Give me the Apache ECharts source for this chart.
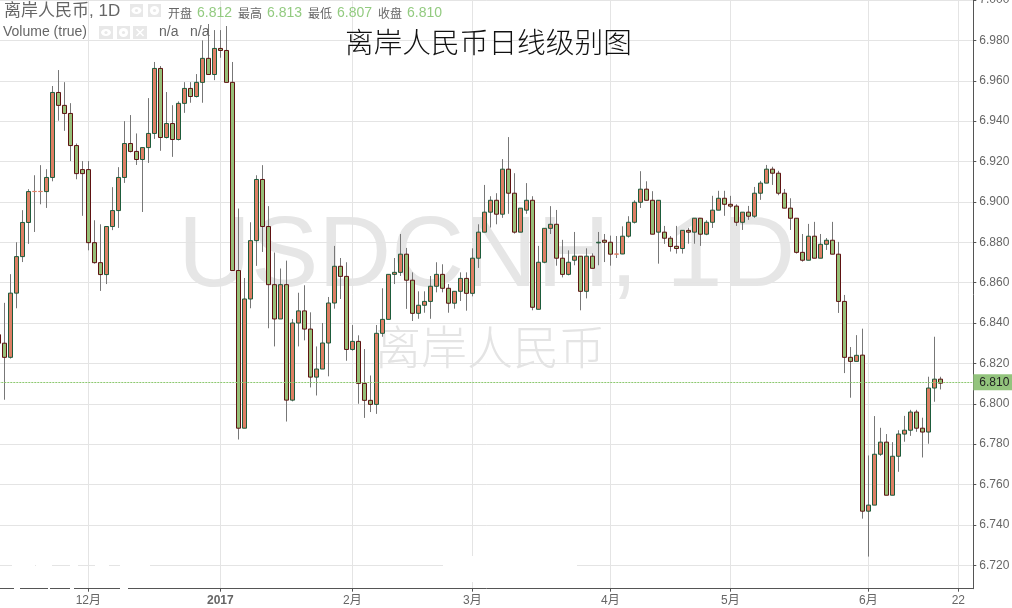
<!DOCTYPE html>
<html><head><meta charset="utf-8">
<style>html,body{margin:0;padding:0;background:#fff}#c{width:1012px;height:608px}</style>
<script src="https://cdn.jsdelivr.net/npm/echarts@6/dist/echarts.min.js"></script>
</head><body><div id="c"></div>
<script>
const opens = [6.8342,6.8300,6.8230,6.8548,6.8729,6.8898,6.9051,6.9051,6.9051,6.9121,
6.9542,6.9478,6.9438,6.9279,6.9160,6.9160,6.8798,6.8699,6.8640,6.8878,
6.8957,6.9121,6.9289,6.9250,6.9210,6.9269,6.9339,6.9661,6.9319,6.9388,
6.9309,6.9488,6.9562,6.9522,6.9592,6.9711,6.9631,6.9760,6.9750,6.9592,
6.8660,6.7879,6.8519,6.8808,6.9111,6.8878,6.8590,6.8420,6.8590,6.8018,
6.8400,6.8460,6.8370,6.8132,6.8172,6.8301,6.8499,6.8681,6.8631,6.8269,
6.8309,6.8101,6.8017,6.7997,6.8349,6.8418,6.8641,6.8651,6.8741,6.8612,
6.8448,6.8488,6.8507,6.8582,6.8641,6.8572,6.8498,6.8557,6.8621,6.8547,
6.8721,6.8850,6.8949,6.9008,6.8939,6.9162,6.9043,6.8850,6.8959,6.9008,
6.8468,6.8701,6.8869,6.8889,6.8721,6.8641,6.8711,6.8731,6.8557,6.8731,
6.8797,6.8810,6.8800,6.8741,6.8742,6.8830,6.8899,6.8998,6.9063,6.9008,
6.8850,6.8850,6.8820,6.8780,6.8769,6.8859,6.8850,6.8919,6.8840,6.8899,
6.8959,6.9018,6.8988,6.8979,6.8899,6.8949,6.8929,6.9043,6.9093,6.9162,
6.9142,6.9043,6.8969,6.8919,6.8750,6.8711,6.8830,6.8721,6.8790,6.8810,
6.8741,6.8507,6.8230,6.8210,6.8241,6.7468,6.7498,6.7750,6.7810,6.7547,
6.7740,6.7850,6.7869,6.7959,6.7879,6.7860,6.8078,6.8122];
const closes = [6.8300,6.8230,6.8548,6.8729,6.8898,6.9051,6.9052,6.9052,6.9121,6.9542,
6.9478,6.9438,6.9279,6.9140,6.9140,6.8798,6.8699,6.8640,6.8878,6.8957,
6.9121,6.9289,6.9250,6.9210,6.9269,6.9339,6.9661,6.9319,6.9388,6.9309,
6.9488,6.9562,6.9522,6.9592,6.9711,6.9631,6.9760,6.9750,6.9592,6.8660,
6.7879,6.8519,6.8808,6.9111,6.8878,6.8590,6.8420,6.8590,6.8018,6.8400,
6.8460,6.8370,6.8132,6.8172,6.8301,6.8499,6.8681,6.8631,6.8269,6.8309,
6.8101,6.8017,6.7997,6.8349,6.8418,6.8641,6.8651,6.8741,6.8612,6.8448,
6.8488,6.8507,6.8582,6.8641,6.8572,6.8498,6.8557,6.8621,6.8547,6.8721,
6.8850,6.8949,6.9008,6.8939,6.9162,6.9043,6.8850,6.8969,6.9008,6.8478,
6.8701,6.8869,6.8889,6.8721,6.8641,6.8701,6.8731,6.8557,6.8731,6.8671,
6.8800,6.8800,6.8741,6.8742,6.8830,6.8899,6.8998,6.9063,6.9008,6.8840,
6.9008,6.8820,6.8779,6.8769,6.8859,6.8850,6.8919,6.8840,6.8899,6.8959,
6.9018,6.8988,6.8979,6.8899,6.8949,6.8929,6.9043,6.9093,6.9162,6.9142,
6.9043,6.8969,6.8919,6.8750,6.8711,6.8830,6.8721,6.8790,6.8810,6.8741,
6.8507,6.8230,6.8210,6.8240,6.7468,6.7498,6.7750,6.7810,6.7547,6.7740,
6.7850,6.7869,6.7959,6.7879,6.7860,6.8078,6.8122,6.8102];
const highs = [6.8400,6.8500,6.8642,6.8800,6.8959,6.9063,6.9132,6.9182,6.9162,6.9574,
6.9653,6.9593,6.9489,6.9289,6.9202,6.9202,6.8909,6.8889,6.8878,6.9073,
6.9172,6.9400,6.9430,6.9339,6.9269,6.9514,6.9693,6.9673,6.9544,6.9479,
6.9498,6.9593,6.9593,6.9633,6.9800,6.9881,6.9851,6.9851,6.9871,6.9693,
6.8967,6.8623,6.8899,6.9132,6.9182,6.8979,6.8749,6.8670,6.8709,6.8420,
6.8550,6.8587,6.8453,6.8284,6.8400,6.8529,6.8782,6.8722,6.8701,6.8390,
6.8339,6.8271,6.8140,6.8390,6.8572,6.8641,6.8722,6.8841,6.8772,6.8651,
6.8557,6.8557,6.8633,6.8701,6.8691,6.8593,6.8557,6.8651,6.8651,6.8770,
6.8889,6.9084,6.9028,6.9043,6.9212,6.9321,6.9142,6.8969,6.9093,6.9028,
6.8782,6.8869,6.8979,6.8960,6.8812,6.8760,6.8851,6.8731,6.8770,6.8745,
6.8851,6.8841,6.8833,6.8831,6.8879,6.8929,6.9008,6.9152,6.9102,6.9053,
6.9008,6.8881,6.8831,6.8881,6.8859,6.8871,6.8919,6.8919,6.8909,6.9030,
6.9055,6.9055,6.9030,6.8988,6.8949,6.8980,6.9074,6.9104,6.9183,6.9174,
6.9154,6.9064,6.9018,6.8919,6.8841,6.8891,6.8901,6.8841,6.8821,6.8901,
6.8802,6.8539,6.8281,6.8340,6.8372,6.7744,6.7939,6.7881,6.7850,6.7810,
6.7869,6.7940,6.7970,6.7970,6.7931,6.8134,6.8332,6.8134];
const lows = [6.8260,6.8020,6.8224,6.8473,6.8702,6.8792,6.8851,6.8988,6.8970,6.9102,
6.9402,6.9352,6.9202,6.9112,6.8931,6.8760,6.8694,6.8559,6.8593,6.8860,
6.8871,6.9094,6.9245,6.9183,6.8950,6.9193,6.9312,6.9253,6.9314,6.9223,
6.9304,6.9441,6.9491,6.9517,6.9491,6.9631,6.9603,6.9714,6.9592,6.8660,
6.7823,6.7879,6.8473,6.8683,6.8752,6.8374,6.8284,6.8420,6.7912,6.8012,
6.8284,6.8314,6.8081,6.8041,6.8172,6.8136,6.8471,6.8519,6.8213,6.8263,
6.8000,6.7930,6.7959,6.7950,6.8332,6.8418,6.8593,6.8633,6.8470,6.8410,
6.8421,6.8451,6.8421,6.8552,6.8552,6.8451,6.8471,6.8509,6.8461,6.8532,
6.8673,6.8850,6.8873,6.8889,6.8921,6.8941,6.8843,6.8850,6.8941,6.8463,
6.8468,6.8696,6.8841,6.8684,6.8626,6.8636,6.8686,6.8463,6.8522,6.8671,
6.8686,6.8702,6.8684,6.8722,6.8741,6.8823,6.8893,6.8970,6.9008,6.8840,
6.8694,6.8792,6.8754,6.8744,6.8744,6.8793,6.8793,6.8782,6.8835,6.8871,
6.8959,6.8931,6.8969,6.8881,6.8861,6.8911,6.8921,6.9010,6.9093,6.9084,
6.9033,6.8969,6.8861,6.8744,6.8704,6.8711,6.8721,6.8721,6.8762,6.8741,
6.8450,6.8152,6.8030,6.8210,6.7431,6.7243,6.7498,6.7742,6.7547,6.7547,
6.7663,6.7812,6.7841,6.7861,6.7734,6.7802,6.8010,6.8071];

const categories = [];
for (let t = Date.UTC(2016, 10, 10); categories.length < 163; t += 86400000) {
  const d = new Date(t);
  if (d.getUTCDay() !== 0 && d.getUTCDay() !== 6) categories.push(d.toISOString().slice(0, 10));
}
const tickDates = ['2016-12-01','2017-01-02','2017-02-01','2017-03-01','2017-04-03','2017-05-01','2017-06-01','2017-06-22'];
const tickLabels = ['12月','2017','2月','3月','4月','5月','6月','22'];
const priceTicks = [6.72,6.74,6.76,6.78,6.80,6.82,6.84,6.86,6.88,6.90,6.92,6.94,6.96,6.98,7.00];
const priceLine = 6.8106, priceLineLabel = '6.810';

const SANS = '"Liberation Sans","Noto Sans CJK SC",sans-serif';
const CJK = '"Noto Sans CJK SC",sans-serif';
const GREY = '#666666', VAL = '#93cb80';
const UP = '#dd7f64', UPB = '#1d5c3c', DN = '#96bf78', DNB = '#5e1212', WICK = '#777777';

function txt(x, y, s, size, color, font, z, extra) {
  return {type:'text', x, y, z: z == null ? 10 : z, silent:true,
    style:Object.assign({text:s, fontSize:size, fill:color, fontFamily:font||SANS, verticalAlign:'middle', align:'left'}, extra||{})};
}
function box(x, y, w, h, kind) {
  const els = [{type:'rect', z:10, silent:true, shape:{x, y, width:w, height:h}, style:{fill:'#e8e8e8'}}];
  const cx = x + w/2, cy = y + h/2;
  if (kind === 'eye') {
    els.push({type:'ellipse', z:11, silent:true, shape:{cx, cy, rx:5, ry:3.5}, style:{fill:'#fff'}});
    els.push({type:'circle', z:12, silent:true, shape:{cx, cy, r:1.6}, style:{fill:'#e8e8e8'}});
  } else if (kind === 'gear') {
    els.push({type:'circle', z:11, silent:true, shape:{cx, cy, r:4.6}, style:{fill:'#fff'}});
    els.push({type:'circle', z:12, silent:true, shape:{cx, cy, r:1.6}, style:{fill:'#e8e8e8'}});
  } else {
    els.push({type:'line', z:11, silent:true, shape:{x1:cx-3.5, y1:cy-3.5, x2:cx+3.5, y2:cy+3.5}, style:{stroke:'#fff', lineWidth:1.6}});
    els.push({type:'line', z:11, silent:true, shape:{x1:cx-3.5, y1:cy+3.5, x2:cx+3.5, y2:cy-3.5}, style:{stroke:'#fff', lineWidth:1.6}});
  }
  return els;
}
function mask(x, y, w, h) {
  return {type:'rect', z:1, silent:true, shape:{x, y, width:w, height:h}, style:{fill:'#fff'}};
}
const graphics = [
  txt(178, 258, 'USDCNH, 1D', 101, '#e6e6e6', SANS, 0),
  txt(375, 347, '离岸人民币', 46, '#e4e4e4', CJK, 0, {fontWeight:300}),
  mask(443, 556, 134, 26), mask(12, 563, 23, 4), mask(36, 563, 16, 4), mask(70, 563, 8, 4), mask(95, 563, 14, 4), mask(120, 563, 30, 4),
  mask(14, 586, 6, 5), mask(48, 586, 2, 5), mask(70, 586, 4, 5), mask(120, 586, 8, 5),
  txt(4, 11, '离岸人民币, 1D', 17, GREY),
  txt(3, 32, 'Volume (true)', 14, GREY),
  txt(159, 32, 'n/a', 14, GREY), txt(190, 32, 'n/a', 14, GREY),
  txt(168, 13, '开盘', 12, GREY, CJK), txt(197, 13, '6.812', 14, VAL),
  txt(238, 13, '最高', 12, GREY, CJK), txt(267, 13, '6.813', 14, VAL),
  txt(308, 13, '最低', 12, GREY, CJK), txt(337, 13, '6.807', 14, VAL),
  txt(378, 13, '收盘', 12, GREY, CJK), txt(407, 13, '6.810', 14, VAL),
  txt(345, 42, '离岸人民币日线级别图', 28.7, '#111111', CJK, 10, {fontWeight:300})
].concat(box(130,4,13,13,'eye'), box(148,4,13,13,'gear'), box(99,26,14,13,'eye'), box(117,26,13,13,'gear'), box(133,26,14,13,'x'));

const wickData = opens.map((o,i) => [o, closes[i], lows[i], highs[i]]);
const bodyData = opens.map((o,i) => {
  const c = closes[i], item = {value:[o, c, Math.min(o,c), Math.max(o,c)]};
  if (Math.abs(o-c) < 0.00025) item.itemStyle = {borderColor:UP, borderColor0:UP};
  return item;
});

const chart = echarts.init(document.getElementById('c'), null, {renderer:'canvas'});
chart.setOption({
  animation:false,
  backgroundColor:'#ffffff',
  grid:{left:-4.7, right:38.7, top:0, bottom:19.3, containLabel:false, outerBoundsMode:'none'},
  xAxis:{
    type:'category', data:categories, boundaryGap:true,
    axisLine:{show:true, lineStyle:{color:'#555555', width:1}},
    axisTick:{show:true, alignWithLabel:true, length:3, interval:(i,v)=>tickDates.includes(v), lineStyle:{color:'#555555'}},
    splitLine:{show:true, alignWithLabel:true, interval:(i,v)=>tickDates.includes(v), lineStyle:{color:'#e4e4e4', width:1}},
    axisLabel:{
      show:true, margin:6, fontSize:12, color:GREY, fontFamily:SANS, hideOverlap:false,
      interval:(i,v)=>tickDates.includes(v),
      formatter:v=>{const s=tickLabels[tickDates.indexOf(v)]; return s==='2017' ? '{b|'+s+'}' : s;},
      rich:{b:{fontWeight:'bold', fontSize:12, color:GREY, fontFamily:SANS}}
    }
  },
  yAxis:{
    type:'value', position:'right', min:6.7084, max:7.0, scale:true,
    axisLine:{show:true, lineStyle:{color:'#555555', width:1}},
    axisTick:{show:true, length:3, customValues:priceTicks, lineStyle:{color:'#555555'}},
    splitLine:{show:true, lineStyle:{color:'#e4e4e4', width:1}},
    axisLabel:{show:true, margin:6, fontSize:12, color:GREY, fontFamily:SANS, customValues:priceTicks,
      showMinLabel:true, showMaxLabel:true, padding:[0,0,4,0], formatter:v=>v.toFixed(3)}
  },
  graphic:{elements:graphics},
  series:[
    {type:'candlestick', name:'wick', data:wickData, barWidth:0, z:2,
      itemStyle:{color:WICK, color0:WICK, borderColor:WICK, borderColor0:WICK, borderWidth:1}},
    {type:'candlestick', name:'USDCNH', data:bodyData, barWidth:4, barMinWidth:4, barMaxWidth:4, z:3,
      itemStyle:{color:UP, color0:DN, borderColor:UPB, borderColor0:DNB, borderWidth:1},
      markLine:{silent:true, symbol:'none', animation:false, precision:4,
        lineStyle:{color:'#8cc86f', type:[2,1], width:1},
        label:{show:true, position:'end', distance:0, formatter:()=>priceLineLabel, color:'#222222', fontSize:12, fontFamily:SANS,
          backgroundColor:'#93c47d', padding:[2,2,2,6], width:31, height:12, lineHeight:12},
        data:[{yAxis:priceLine}]}}
  ]
});
</script></body></html>
